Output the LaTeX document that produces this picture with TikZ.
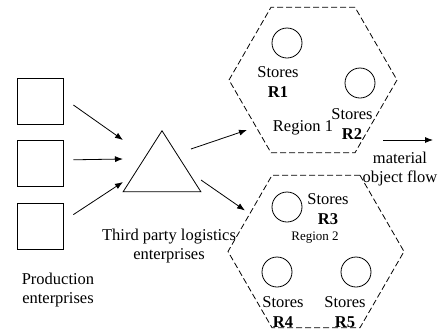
\documentclass[tikz,border=0pt]{standalone}
\usepackage{fontspec}
\setmainfont{Liberation Serif}
\usetikzlibrary{positioning, arrows.meta, shapes.geometric}

\begin{document}
\begin{tikzpicture}[x=1pt, y=-1pt,
  every node/.style={font=\fontsize{16.5}{19.5}\selectfont},
  firm/.style={rectangle, draw, line width=0.8pt, minimum size=46pt, inner sep=0pt},
  hub/.style={isosceles triangle, isosceles triangle apex angle=65,
              shape border rotate=90, draw, line width=0.8pt,
              minimum height=61pt, inner sep=0pt},
  region/.style={regular polygon, regular polygon sides=6, draw, line width=0.8pt,
                 dash pattern=on 6pt off 3pt, inner sep=0pt},
  store/.style={circle, draw, line width=0.8pt, minimum size=30pt, inner sep=0pt},
  lbl/.style={align=center, inner sep=0pt},
  arrow/.style={-{Latex[length=8pt, width=6pt]}, line width=0.8pt},
]
\useasboundingbox (0,0) rectangle (440,333);

% Production enterprises
\node[firm] (p1) at (40,101) {};
\node[firm, below=16pt of p1] (p2) {};
\node[firm, below=16pt of p2] (p3) {};
\node[lbl] (prod) at (58,290) {Production\\enterprises};

% Third party logistics
\node[hub, anchor=apex] (tpl) at (162,130) {};
\node[lbl] (tpllbl) at (169,246) {Third party logistics\\enterprises};

% Region 1
\node[region, minimum size=168pt] (reg1) at (313,80) {};
\node[store] (r1) at (287,43) {};
\node[store] (r2) at (360,83) {};
\node[lbl] (r1lbl) at (278,82) {Stores\\\textbf{R1}};
\node[lbl] (r2lbl) at (352,124) {Stores\\\textbf{R2}};
\node[lbl] (reg1lbl) at (303,128) {Region 1};

% Region 2
\node[region, minimum size=176pt] (reg2) at (316,251.5) {};
\node[store] (r3) at (287,207) {};
\node[store] (r4) at (277,272) {};
\node[store] (r5) at (356,272) {};
\node[lbl] (r3lbl) at (328,209) {Stores\\\textbf{R3}};
\node[lbl, font=\fontsize{13}{15}\selectfont] (reg2lbl) at (315,238) {Region 2};
\node[lbl] (r4lbl) at (283,312) {Stores\\\textbf{R4}};
\node[lbl] (r5lbl) at (345,312) {Stores\\\textbf{R5}};

% Flow legend
\coordinate (flow) at (433,140);
\node[lbl] (flowlbl) at (400,169) {material\\object flow};

% Arrows
\draw[arrow] ([shift={(10,4)}]p1.east) -- ([shift={(-39,10)}]tpl.apex);
\draw[arrow] ([shift={(10,-4)}]p2.east) -- ([shift={(-39,29)}]tpl.apex);
\draw[arrow] ([shift={(10,-12)}]p3.east) -- ([shift={(-39,52)}]tpl.apex);
\draw[arrow] ([shift={(29,19)}]tpl.apex) -- ([shift={(-66,50)}]reg1.center);
\draw[arrow] ([shift={(39,50)}]tpl.apex) -- ([shift={(-71,-41)}]reg2.center);
\draw[arrow] ([shift={(70,60)}]reg1.center) -- (flow);

\end{tikzpicture}
\end{document}
